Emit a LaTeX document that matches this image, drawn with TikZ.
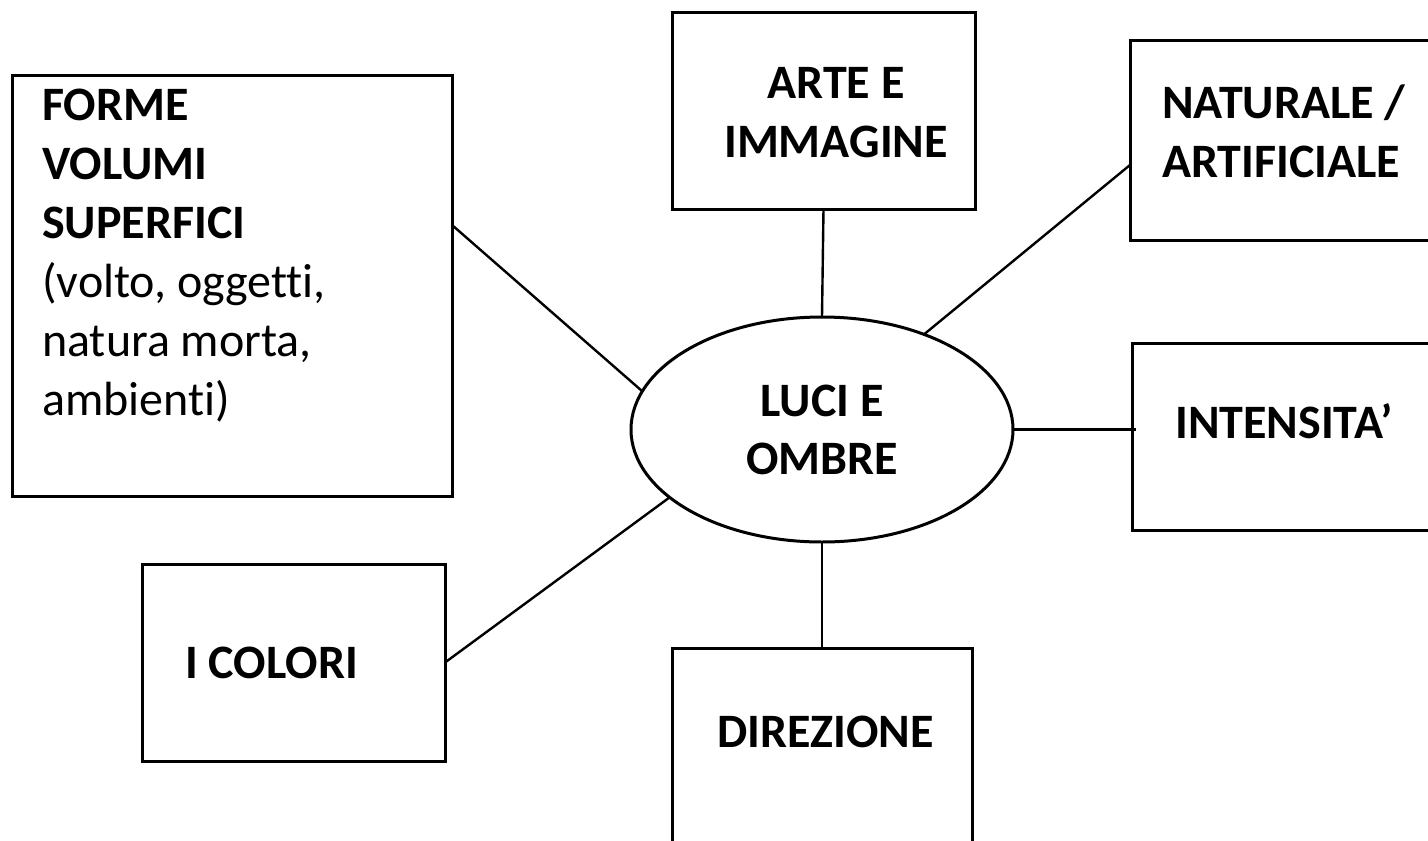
\documentclass[tikz,border=0pt]{standalone}
\usepackage{fontspec}
\setmainfont{Carlito}[Ligatures=NoCommon]
\usetikzlibrary{shapes.geometric}

\begin{document}
\begin{tikzpicture}[x=1pt,y=-1pt,
	box/.style={draw, line width=3pt, rectangle, inner sep=0pt, outer sep=0pt},
	oval/.style={draw, line width=3pt, ellipse, inner sep=0pt, outer sep=0pt,
		minimum width=382pt, minimum height=225pt},
	conn/.style={line width=2.4pt},
	lbl/.style={font=\fontsize{48}{59}\selectfont\bfseries, inner sep=0pt, align=left}]
	\clip (0,0) rectangle (1428,841);
	\fill[white] (0,0) rectangle (1428,841);

	\node[oval, align=center, font=\fontsize{48}{58}\selectfont\bfseries] (luci) at (822,429.5) {LUCI E\\OMBRE};

	\node[box, minimum width=440pt, minimum height=421pt] (forme) at (232,285.5) {};
	\node[box, minimum width=303pt, minimum height=197pt] (arte) at (823.5,110.5) {};
	\node[box, minimum width=330pt, minimum height=200pt] (nat) at (1295,140) {};
	\node[box, minimum width=328pt, minimum height=187pt] (int) at (1296,436.5) {};
	\node[box, minimum width=300pt, minimum height=232pt] (dir) at (822,764) {};
	\node[box, minimum width=303pt, minimum height=197pt] (col) at (293.5,662.5) {};

	\node[lbl, anchor=base west] (forme-txt) at (42,415) {FORME\\VOLUMI\\SUPERFICI\\
		\normalfont\fontsize{48}{59}\selectfont (volto, oggetti,\\
		\normalfont\fontsize{48}{59}\selectfont natura morta,\\
		\normalfont\fontsize{48}{59}\selectfont ambienti)};
	\node[lbl, align=center, anchor=base] (arte-txt) at (836,157) {ARTE E\\IMMAGINE};
	\node[lbl, anchor=base west] (nat-txt) at (1162,177) {NATURALE /\\ARTIFICIALE};
	\node[lbl, anchor=base west] (int-txt) at (1175,438) {INTENSITA’};
	\node[lbl, anchor=base west] (dir-txt) at (717,747) {DIREZIONE};
	\node[lbl, anchor=base west] (col-txt) at (185,678) {I COLORI};

	\draw[conn] ([yshift=60.5pt]forme.east) -- (luci.168);
	\draw[conn] (arte.south) -- (luci.north);
	\draw[conn] ([yshift=-25pt]nat.west) -- (luci.43);
	\draw[conn] (luci.east) -- ([xshift=4pt]luci.east -| int.west);
	\draw[conn] (col.east) -- (luci.204);
	\draw[conn] (luci.south) -- (dir.north);
\end{tikzpicture}
\end{document}
